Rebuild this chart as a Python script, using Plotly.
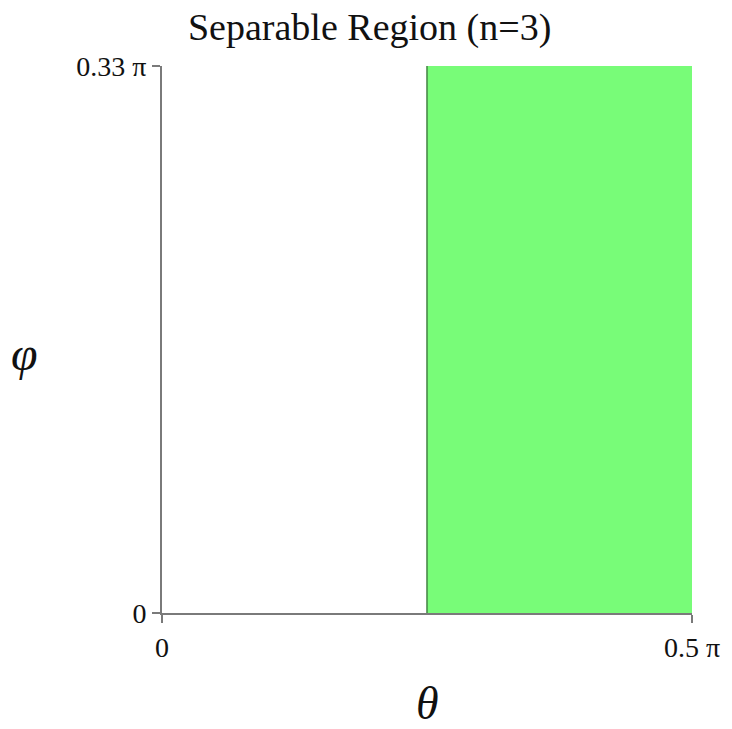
import plotly.graph_objects as go

# Data (in units of pi)
theta_range = [0.0, 0.5]
phi_range = [0.0, 0.33]
theta_boundary = 0.25          # separable for theta >= boundary
region_theta = [theta_boundary, 0.5]
region_phi_top = [0.33, 0.33]
x_tick_vals = [0.0, 0.5]
x_tick_text = ["0", "0.5 π"]
y_tick_vals = [0.0, 0.33]
y_tick_text = ["0", "0.33 π"]

serif = "Liberation Serif, Times New Roman, serif"

fig = go.Figure()
fig.add_trace(go.Scatter(
    x=region_theta, y=region_phi_top, mode="lines",
    fill="tozeroy", fillcolor="#78fc78",
    line=dict(color="rgba(0,0,0,0)", width=0),
    hoverinfo="skip", showlegend=False,
))
fig.add_trace(go.Scatter(
    x=[theta_boundary, theta_boundary], y=phi_range, mode="lines",
    line=dict(color="#4a8a4a", width=1.6),
    hoverinfo="skip", showlegend=False,
))

fig.update_layout(
    width=732, height=729,
    margin=dict(l=162, r=35, t=66, b=116),
    paper_bgcolor="white", plot_bgcolor="white",
    font=dict(family=serif, color="#111"),
    title=dict(text="Separable Region (n=3)", x=0.505, xref="container",
               xanchor="center",
               y=1 - 27 / 729, yref="container", yanchor="middle",
               font=dict(family=serif, size=38, color="#111")),
    showlegend=False,
)

fig.update_xaxes(
    range=theta_range, showgrid=False, zeroline=False,
    showline=True, linecolor="#7a7a7a", linewidth=2,
    ticks="outside", ticklen=8, tickwidth=2, tickcolor="#7a7a7a",
    tickvals=x_tick_vals, ticktext=x_tick_text,
    tickfont=dict(family=serif, size=28, color="#111"),
    fixedrange=True,
)
fig.update_yaxes(
    range=phi_range, showgrid=False, zeroline=False,
    showline=True, linecolor="#7a7a7a", linewidth=2,
    ticks="outside", ticklen=8, tickwidth=2, tickcolor="#7a7a7a",
    tickvals=y_tick_vals, ticktext=y_tick_text,
    tickfont=dict(family=serif, size=28, color="#111"),
    fixedrange=True,
)

fig.add_annotation(text="<i>θ</i>", x=0.5, xref="paper", y=-0.165, yref="paper",
                   yanchor="middle", showarrow=False,
                   font=dict(family=serif, size=46, color="#111"))
fig.add_annotation(text="<i>φ</i>", x=-0.26, xref="paper", y=0.475, yref="paper",
                   xanchor="center", yanchor="middle", showarrow=False,
                   font=dict(family=serif, size=48, color="#111"))

fig.write_html(
    "out.html",
    config={"displayModeBar": False},
    post_script="document.body.style.margin='0';document.body.style.overflow='hidden';",
)
